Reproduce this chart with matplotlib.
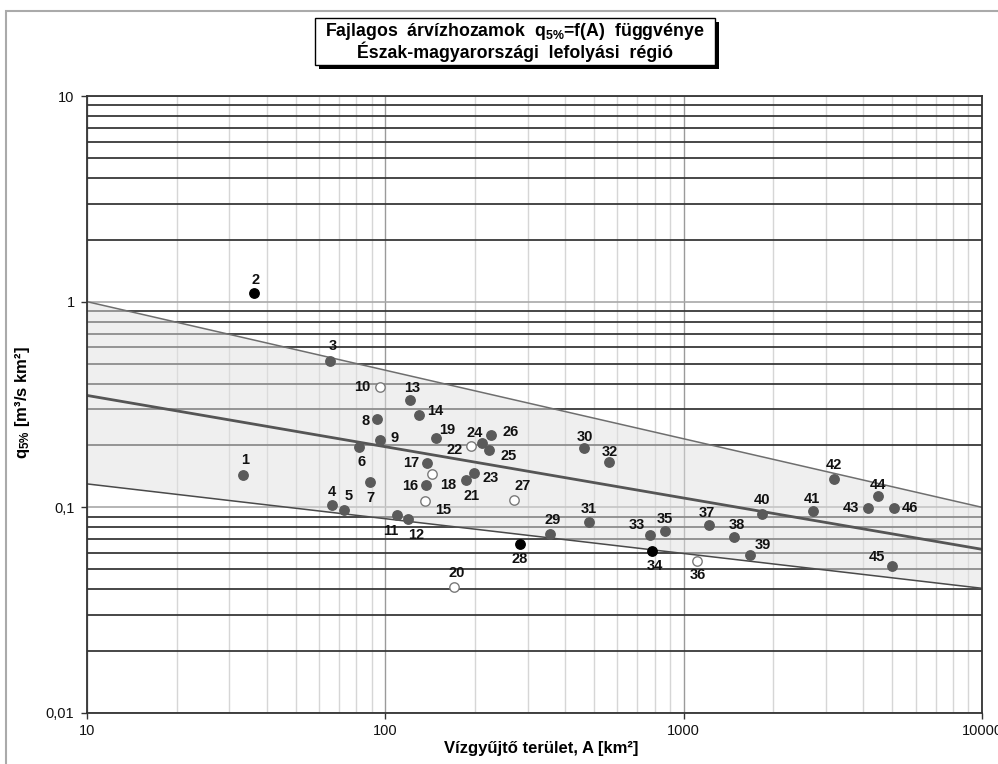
import numpy as np
import matplotlib
matplotlib.use("Agg")
import matplotlib.pyplot as plt
from matplotlib.patches import Rectangle
from matplotlib.ticker import FixedLocator, LogLocator, NullFormatter

plt.rcParams['font.family'] = ['Liberation Sans', 'DejaVu Sans']
plt.rcParams['mathtext.fontset'] = 'custom'
plt.rcParams['mathtext.rm'] = 'Liberation Sans:bold'
plt.rcParams['mathtext.it'] = 'Liberation Sans:bold'
plt.rcParams['mathtext.bf'] = 'Liberation Sans:bold'

# catchment area [km2] and specific 5% flood discharge [m3/s km2], stations 1..46
area = [33.3, 36.2, 65.4, 66.1, 72.5, 81.4, 88.6, 93.7, 95.9, 95.7,
        109.7, 119.4, 121.3, 129.3, 135.7, 136.4, 137.5, 143.2, 147.4, 169.3,
        186.7, 193.1, 198.6, 211.2, 222.9, 226.9, 270.9, 282.2, 356.8, 464.8,
        480.4, 563.6, 771.4, 785.2, 863.3, 1108, 1215, 1474, 1667, 1833,
        2716, 3186, 4140, 4472, 4983, 5060]
q5 = [0.143, 1.106, 0.517, 0.103, 0.097, 0.196, 0.133, 0.270, 0.213, 0.383,
      0.092, 0.088, 0.334, 0.281, 0.107, 0.129, 0.164, 0.145, 0.217, 0.041,
      0.136, 0.199, 0.147, 0.206, 0.191, 0.226, 0.109, 0.0666, 0.0739, 0.195,
      0.0849, 0.166, 0.0731, 0.0614, 0.0770, 0.0551, 0.0818, 0.0715, 0.0584, 0.0925,
      0.0964, 0.138, 0.0989, 0.113, 0.0517, 0.0989]
# g = regular station, k = outlier (black), o = open marker
kind = ['g', 'k', 'g', 'g', 'g', 'g', 'g', 'g', 'g', 'o',
        'g', 'g', 'g', 'g', 'o', 'g', 'g', 'o', 'g', 'o',
        'g', 'o', 'g', 'g', 'g', 'g', 'o', 'k', 'g', 'g',
        'g', 'g', 'g', 'k', 'g', 'o', 'g', 'g', 'g', 'g',
        'g', 'g', 'g', 'g', 'g', 'g']

# envelope and mean curves (straight in log-log), endpoints at A = 10 and 10000
line_a = [10, 10000]
upper_q = [1.0, 0.1]
mean_q = [0.35, 0.0625]
lower_q = [0.13, 0.0404]

# label offsets in pixels (dx right, dy down)
label_off = [(2, -15), (2, -13), (2, -15), (0, -13), (5, -14), (3, 15), (1, 16), (-11, 2),
             (15, -2), (-17, 0), (-7, 16), (8, 16), (2, -12), (17, -4), (18, 9), (-15, 1),
             (-15, 0), (16, 11), (12, -8), (3, -14), (5, 16), (-16, 4), (16, 5), (-8, -10),
             (19, 6), (19, -3), (8, -14), (0, 15), (2, -14), (0, -11), (0, -13), (0, -10),
             (-13, -10), (3, 15), (0, -12), (1, 14), (-2, -12), (3, -12), (13, -10), (0, -14),
             (-1, -12), (0, -14), (-17, 0), (0, -11), (-15, -9), (16, 0)]

fig = plt.figure(figsize=(9.98, 7.64), dpi=100)
ax = fig.add_axes([87 / 998, 1 - 713 / 764, 895 / 998, 617 / 764])
ax.set_xscale('log')
ax.set_yscale('log')
ax.set_xlim(10, 10000)
ax.set_ylim(0.01, 10)

# grid: horizontal minors dark, majors light; verticals light
ax.set_axisbelow(True)
ax.xaxis.set_minor_locator(LogLocator(base=10, subs=np.arange(2, 10)))
ax.yaxis.set_minor_locator(LogLocator(base=10, subs=np.arange(2, 10)))
ax.xaxis.set_minor_formatter(NullFormatter())
ax.yaxis.set_minor_formatter(NullFormatter())
ax.xaxis.grid(True, which='major', color='#9a9a9a', lw=1.0)
ax.xaxis.grid(True, which='minor', color='#d6d6d6', lw=1.0)
ax.yaxis.grid(True, which='major', color='#a8a8a8', lw=1.2)
ax.yaxis.grid(True, which='minor', color='#383838', lw=1.3)

ax.xaxis.set_major_locator(FixedLocator([10, 100, 1000, 10000]))
ax.yaxis.set_major_locator(FixedLocator([0.01, 0.1, 1, 10]))
ax.set_xticklabels(['10', '100', '1000', '10000'])
ax.set_yticklabels(['0,01', '0,1', '1', '10'])
ax.tick_params(which='major', direction='out', length=4, width=1, color='#333333',
               labelsize=10.5, labelcolor='#111111')
ax.tick_params(axis='x', pad=4)
ax.tick_params(axis='y', pad=5)
ax.tick_params(which='minor', length=0)
for sp in ax.spines.values():
    sp.set_color('#333333')
    sp.set_linewidth(1.3)

# band between envelopes
ax.fill_between(line_a, lower_q, upper_q, color='#e1e1e1', alpha=0.5, lw=0, zorder=1)
ax.plot(line_a, upper_q, color='#6e6e6e', lw=1.1, zorder=2)
ax.plot(line_a, lower_q, color='#4a4a4a', lw=1.1, zorder=2)
ax.plot(line_a, mean_q, color='#555555', lw=2.0, zorder=2)

styles = {'g': dict(facecolor='#5a5a5a', edgecolor='#5a5a5a'),
          'k': dict(facecolor='#000000', edgecolor='#000000'),
          'o': dict(facecolor='white', edgecolor='#7a7a7a')}
for k, st in styles.items():
    xs = [a for a, t in zip(area, kind) if t == k]
    ys = [v for v, t in zip(q5, kind) if t == k]
    ax.scatter(xs, ys, s=46, linewidths=1.0, zorder=4, **st)

for i, (a, v) in enumerate(zip(area, q5)):
    dx, dy = label_off[i]
    ax.annotate(str(i + 1), (a, v), xytext=(dx, -dy), textcoords='offset pixels',
                ha='center', va='center', fontsize=10.5, fontweight='bold',
                color='#111111', zorder=5)

# axis titles
fig.text(541 / 998, 1 - 749 / 764, 'Vízgyűjtő terület, A [km²]',
         ha='center', va='center', fontsize=12, fontweight='bold')
fig.text(23 / 998, 1 - 403 / 764, 'q$_{\\mathrm{5\\%}}$ [m³/s km²]',
         ha='center', va='center', rotation=90, fontsize=12, fontweight='bold')

# chart-area border
fig.patches.append(Rectangle((6 / 998, -0.1), 2, 1 - 11 / 764 + 0.1,
                             transform=fig.transFigure, fill=False,
                             edgecolor='#aaaaaa', lw=1.5))

# title box with drop shadow
bx, by, bw, bh = 315 / 998, 1 - 65 / 764, 400 / 998, 47 / 764
fig.patches.append(Rectangle((bx + 4 / 998, by - 4 / 764), bw, bh, transform=fig.transFigure,
                             facecolor='black', edgecolor='black', lw=0, zorder=5))
fig.patches.append(Rectangle((bx, by), bw, bh, transform=fig.transFigure,
                             facecolor='white', edgecolor='black', lw=1.0, zorder=6))
fig.text(bx + bw / 2, by + bh / 2,
         'Fajlagos  árvízhozamok  q$_{\\mathrm{5\\%}}$=f(A)  függvénye\n'
         'Észak-magyarországi  lefolyási  régió',
         ha='center', va='center', fontsize=12.8, fontweight='bold',
         linespacing=1.0, zorder=7)

fig.savefig('out.png', dpi=100)
